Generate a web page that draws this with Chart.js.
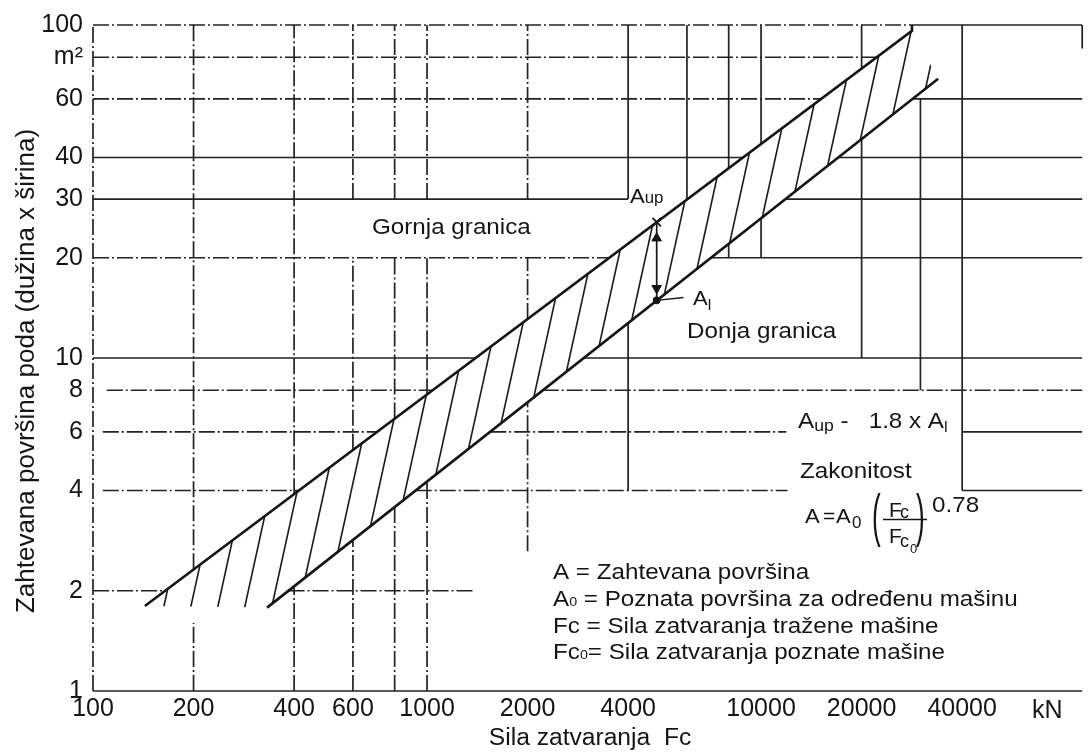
<!DOCTYPE html>
<html>
<head>
<meta charset="utf-8">
<script src="https://cdn.jsdelivr.net/npm/chart.js@4.4.1/dist/chart.umd.min.js"></script>
<style>
  html, body { margin: 0; padding: 0; background: #fff; }
  #wrap { width: 1090px; height: 752px; position: relative; }
  canvas { display: block; }
</style>
</head>
<body>
<div id="wrap"><canvas id="c" width="1090" height="752"></canvas></div>
<script>
// Axis ticks: closing force Fc (kN) and required floor area A (m²)
const xTicks = [100, 200, 400, 600, 1000, 2000, 4000, 10000, 20000, 40000];
const xTickLabels = ['100', '200', '400', '600', '1000', '2000', '4000', '10000', '20000', '40000'];
const yTicks = [1, 2, 4, 6, 8, 10, 20, 30, 40, 60, 80, 100];
const yTickLabels = ['1', '2', '4', '6', '8', '10', '20', '30', '40', '60', 'm²', '100'];
const xMin = 100, xMax = 91500, yMin = 1, yMax = 100;

// Upper limit (Gornja granica)
const upperFc = [143, 28300, 28300];
const upperA = [1.80, 96, 100];
// Lower limit (Donja granica)
const lowerFc = [332, 33900];
const lowerA = [1.78, 69];

// Example reading A_up / A_l at one closing force
const exampleFc = 4870;
const exampleAup = 25.6;
const exampleAl = 14.9;
const arrowTipsA = [22.9, 16.2];
const leaderFc = [4870, 5860];
const leaderA = [14.9, 15.2];

// Grid runs. Rows: [A, Fc from, Fc to]; columns: [Fc, A from, A to]
const rowsSolid = [
  [100, 28300, 91500],
  [60, 28400, 91500],
  [40, 100, 8830], [40, 17000, 91500],
  [30, 100, 4000], [30, 11800, 91500],
  [20, 7080, 91500],
  [10, 100, 1400], [10, 2950, 91500],
  [6, 40000, 91500],
  [4, 40000, 91500],
  [1, 100, 91500]
];
const rowsDashDot = [
  [100, 100, 28300],
  [80, 100, 22200],
  [60, 100, 15100],
  [20, 100, 3510],
  [8, 110, 1040], [8, 2220, 91500],
  [6, 107, 708], [6, 1545, 11900],
  [4, 107, 413], [4, 925, 12000],
  [2, 100, 164], [2, 385, 1390]
];
const colsSolid = [
  [4000, 30, 100], [4000, 4, 12.7],
  [6000, 30, 100],
  [8000, 37.1, 100], [8000, 20, 22],
  [10000, 43.9, 100], [10000, 20, 26.3],
  [20000, 73.9, 100], [20000, 10, 45.5],
  [30000, 8, 60],
  [40000, 4, 100],
  [91500, 85, 100]
];
const colsDashDot = [
  [100, 1, 100],
  [200, 2.32, 100], [200, 1, 1.6],
  [400, 3.9, 100], [400, 1, 2.06],
  [600, 30, 100], [600, 5.3, 20], [600, 1, 2.84],
  [800, 30, 100], [800, 6.58, 20], [800, 1, 3.57],
  [1000, 30, 100], [1000, 7.78, 20], [1000, 1, 4.26],
  [2000, 30, 100], [2000, 13.1, 20], [2000, 2.63, 7.36]
];

// ---- helpers building library point lists from the arrays above ----
const pts = (xs, ys) => xs.map((x, i) => ({ x: x, y: ys[i] }));
function runsToPoints(rows, cols) {
  const out = [];
  rows.forEach(([a, f0, f1]) => { out.push({ x: f0, y: a }, { x: f1, y: a }, { x: f1, y: null }); });
  cols.forEach(([f, a0, a1]) => { out.push({ x: f, y: a0 }, { x: f, y: a1 }, { x: f, y: null }); });
  return out;
}

// closed outline of the hatched band
const bandOutline = [
  { x: upperFc[0], y: upperA[0] },
  { x: upperFc[1], y: upperA[1] },
  { x: lowerFc[1], y: lowerA[1] },
  { x: lowerFc[0], y: lowerA[0] },
  { x: upperFc[0], y: upperA[0] }
];

function hatchPattern() {
  const w = 27, h = 123;
  const c = document.createElement('canvas');
  c.width = w; c.height = h;
  const g = c.getContext('2d');
  g.strokeStyle = '#1a1a1a';
  g.lineWidth = 1.6;
  [-w, 0, w].forEach(o => {
    g.beginPath(); g.moveTo(o, h); g.lineTo(o + w, 0); g.stroke();
  });
  return g.createPattern(c, 'repeat');
}

const INK = '#151515';
const FONT = '"Liberation Sans", Arial, sans-serif';

// ---- text drawing (annotations, legend block, formula, axis titles) ----
function runs(ctx, x, y, parts, sx) {
  let cx = x;
  parts.forEach(p => {
    const size = p.s || 22;
    ctx.font = size + 'px ' + FONT;
    ctx.save();
    ctx.translate(cx, y + (p.dy || 0));
    ctx.scale(sx, 1);
    ctx.fillText(p.t, 0, 0);
    ctx.restore();
    cx += ctx.measureText(p.t).width * sx;
  });
  return cx;
}
function glyph(ctx, t, x, y, size, sx) {
  ctx.font = size + 'px ' + FONT;
  ctx.save();
  ctx.translate(x, y);
  ctx.scale(sx, 1);
  ctx.fillText(t, 0, 0);
  ctx.restore();
}

const textPlugin = {
  id: 'texts',
  beforeDraw(chart) {
    const ctx = chart.ctx;
    ctx.save();
    ctx.fillStyle = '#fff';
    ctx.fillRect(0, 0, chart.width, chart.height);
    ctx.restore();
  },
  afterDraw(chart) {
    const ctx = chart.ctx;
    const SX = 1.1;
    ctx.save();
    ctx.fillStyle = INK;
    ctx.textAlign = 'left';
    ctx.textBaseline = 'alphabetic';

    // band names
    runs(ctx, 372, 234, [{ t: 'Gornja granica' }], SX);
    runs(ctx, 687, 338, [{ t: 'Donja granica' }], SX);

    // A_up / A_l markers
    runs(ctx, 630, 203, [{ t: 'A', s: 21 }, { t: 'up', s: 16 }], 1.05);
    runs(ctx, 693, 305, [{ t: 'A', s: 21 }, { t: 'l', s: 15, dy: 5 }], 1.05);

    // ratio and law
    runs(ctx, 798, 428, [{ t: 'A', s: 22 }, { t: 'up', s: 16, dy: 3 }, { t: ' -   1.8 x A', s: 22 }, { t: 'l', s: 15, dy: 4 }], SX);
    runs(ctx, 800, 478, [{ t: 'Zakonitost' }], SX);

    // A = A0 (Fc / Fc0)^0.78
    glyph(ctx, 'A', 805, 523, 21, 1.05);
    glyph(ctx, '=', 823, 523, 21, 1.0);
    glyph(ctx, 'A', 836, 523, 21, 1.05);
    glyph(ctx, '0', 852, 528, 17, 1.0);
    glyph(ctx, '(', 872, 535, 58, 0.45);
    glyph(ctx, 'F', 889, 517, 21, 1.0);
    glyph(ctx, 'c', 900, 518, 18, 1.0);
    glyph(ctx, 'F', 889, 543, 21, 1.0);
    glyph(ctx, 'c', 900, 547, 18, 1.0);
    glyph(ctx, '0', 910, 553, 13, 1.0);
    glyph(ctx, ')', 916, 535, 58, 0.45);
    glyph(ctx, '0.78', 932, 512, 22, SX);
    ctx.strokeStyle = INK;
    ctx.lineWidth = 1.5;
    ctx.beginPath(); ctx.moveTo(883, 519.5); ctx.lineTo(927, 519.5); ctx.stroke();

    // symbol list
    runs(ctx, 553, 579, [{ t: 'A = Zahtevana površina' }], SX);
    runs(ctx, 553, 606, [{ t: 'A' }, { t: '0', s: 13 }, { t: ' = Poznata površina za određenu mašinu' }], SX);
    runs(ctx, 553, 633, [{ t: 'Fc = Sila zatvaranja tražene mašine' }], SX);
    runs(ctx, 553, 659, [{ t: 'Fc' }, { t: '0', s: 13 }, { t: '= Sila zatvaranja poznate mašine' }], SX);

    // unit after the force ticks
    glyph(ctx, 'kN', 1032, 718, 25, 1.0);

    // axis titles
    ctx.textAlign = 'center';
    ctx.font = '23px ' + FONT;
    ctx.save();
    ctx.translate(590, 745);
    ctx.scale(1.07, 1);
    ctx.fillText('Sila zatvaranja  Fc', 0, 0);
    ctx.restore();

    ctx.font = '26px ' + FONT;
    ctx.textBaseline = 'middle';
    ctx.save();
    ctx.translate(27, 371);
    ctx.rotate(-Math.PI / 2);
    ctx.fillText('Zahtevana površina poda (dužina x širina)', 0, 0);
    ctx.restore();

    ctx.restore();
  }
};

const lineDefaults = { showLine: true, pointRadius: 0, fill: false, clip: false, spanGaps: false };

new Chart(document.getElementById('c'), {
  type: 'scatter',
  data: {
    datasets: [
      // arrow heads
      { ...lineDefaults, showLine: false, data: pts([exampleFc, exampleFc], arrowTipsA),
        pointStyle: 'triangle', pointRadius: 5.5, rotation: [0, 180],
        pointBackgroundColor: INK, pointBorderColor: INK, pointBorderWidth: 1 },
      // mark on the upper limit
      { ...lineDefaults, showLine: false, data: [{ x: exampleFc, y: exampleAup }],
        pointStyle: 'crossRot', pointRadius: 6, pointBorderColor: INK, pointBorderWidth: 1.8 },
      // point on the lower limit
      { ...lineDefaults, showLine: false, data: [{ x: exampleFc, y: exampleAl }],
        pointStyle: 'circle', pointRadius: 3.5, pointBackgroundColor: INK, pointBorderColor: INK },
      // arrow shaft
      { ...lineDefaults, data: [{ x: exampleFc, y: exampleAup }, { x: exampleFc, y: exampleAl }],
        borderColor: INK, borderWidth: 1.7 },
      // leader to A_l
      { ...lineDefaults, data: pts(leaderFc, leaderA), borderColor: INK, borderWidth: 1.4 },
      // limits
      { ...lineDefaults, label: 'Gornja granica', data: pts(upperFc, upperA), borderColor: INK, borderWidth: 2.6 },
      { ...lineDefaults, label: 'Donja granica', data: pts(lowerFc, lowerA), borderColor: INK, borderWidth: 2.6 },
      // grid
      { ...lineDefaults, data: runsToPoints(rowsSolid, colsSolid), borderColor: '#222', borderWidth: 1.7 },
      { ...lineDefaults, data: runsToPoints(rowsDashDot, colsDashDot), borderColor: '#222', borderWidth: 1.7,
        borderDash: [16, 3, 2, 3] },
      // hatched band
      { ...lineDefaults, data: bandOutline, borderWidth: 0, borderColor: 'rgba(0,0,0,0)',
        fill: 'shape', backgroundColor: hatchPattern() }
    ]
  },
  options: {
    responsive: false,
    animation: false,
    events: [],
    layout: { padding: { top: 19, right: 2, left: 0, bottom: 0 } },
    plugins: { legend: { display: false }, tooltip: { enabled: false } },
    scales: {
      x: {
        type: 'logarithmic', min: xMin, max: xMax,
        grid: { display: false, drawTicks: false }, border: { display: false },
        afterBuildTicks: s => { s.ticks = xTicks.map(v => ({ value: v })); },
        afterFit: s => { s.height = 61; },
        ticks: {
          autoSkip: false, maxRotation: 0, minRotation: 0, padding: 3, color: INK,
          font: { family: FONT, size: 25 },
          callback: v => { const i = xTicks.indexOf(v); return i < 0 ? '' : xTickLabels[i]; }
        }
      },
      y: {
        type: 'logarithmic', min: yMin, max: yMax,
        grid: { display: false, drawTicks: false }, border: { display: false },
        afterBuildTicks: s => { s.ticks = yTicks.map(v => ({ value: v })); },
        afterFit: s => { s.width = 93; },
        ticks: {
          autoSkip: false, padding: 10, color: INK,
          font: { family: FONT, size: 25 },
          callback: v => { const i = yTicks.indexOf(v); return i < 0 ? '' : yTickLabels[i]; }
        }
      }
    }
  },
  plugins: [textPlugin]
});
</script>
</body>
</html>
